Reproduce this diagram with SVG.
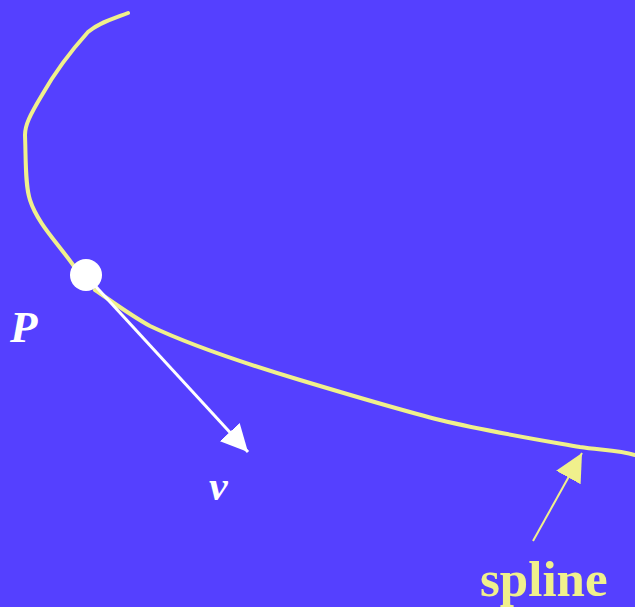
<svg xmlns="http://www.w3.org/2000/svg" width="635" height="607" viewBox="0 0 635 607">
<defs>
<style>
.curve{fill:none;stroke:#F0F08C;stroke-width:4;stroke-linejoin:round;stroke-linecap:round}
.lbl{font-family:"Liberation Serif","Times New Roman",serif;font-weight:bold}
</style>
<marker id="wh" viewBox="0 0 10 10" refX="10" refY="5" markerWidth="9" markerHeight="9" markerUnits="strokeWidth" orient="auto"><path d="M0,0 L10,5 L0,10 z" fill="#fff"/></marker>
<marker id="yh" viewBox="0 0 10 10" refX="10" refY="5" markerWidth="14" markerHeight="14" markerUnits="strokeWidth" orient="auto"><path d="M0,0 L10,5 L0,10 z" fill="#F0F08C"/></marker>
</defs>
<rect width="635" height="607" fill="#5540FF"/>
<g id="spline-curve">
<path class="curve" d="M128,13 C115,18 100,22 88,32 C70,52 55,72 42,95 C30,115 25,125 25,135 C26,160 25,185 30,200 C38,225 60,245 78,272 M95,290 C110,300 130,315 150,326 C190,345 250,365 300,380 C350,395 400,410 440,420 C490,432 540,440 580,447 C600,450 620,450 635,455"/>
</g>
<g id="connectors">
<line x1="88" y1="278" x2="248" y2="452" stroke="#fff" stroke-width="3" marker-end="url(#wh)"/>
<line x1="533" y1="541" x2="582" y2="453" stroke="#F0F08C" stroke-width="2" marker-end="url(#yh)"/>
</g>
<g id="point-P">
<circle cx="86" cy="275" r="16" fill="#fff"/>
<text class="lbl" x="10" y="342" font-size="45" font-style="italic" fill="#fff">P</text>
</g>
<g id="label-v">
<text class="lbl" x="209" y="500" font-size="42" font-style="italic" fill="#fff">v</text>
</g>
<g id="label-spline">
<text class="lbl" x="480" y="596" font-size="51" fill="#F0F08C">spline</text>
</g>
</svg>
